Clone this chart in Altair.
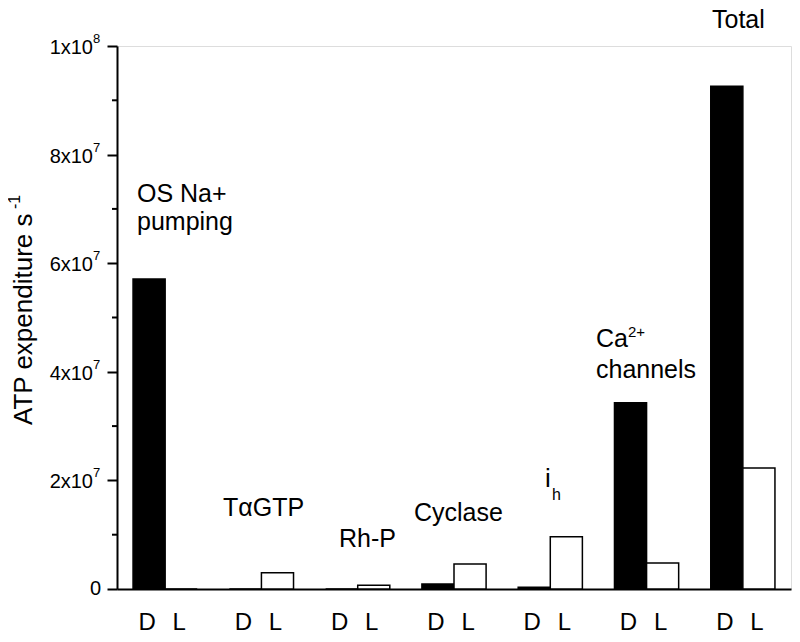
import altair as alt
import pandas as pd

# ---- data ----
groups = ["OS Na+ pumping", "TαGTP", "Rh-P", "Cyclase", "ih", "Ca2+ channels", "Total"]
dark_values = [57.1e6, 0.0, 0.0, 0.9e6, 0.3e6, 34.3e6, 92.6e6]     # D
light_values = [0.0, 3.0e6, 0.7e6, 4.6e6, 9.6e6, 4.8e6, 22.3e6]    # L
series = ["D", "L"]
major_ticks = [0, 2e7, 4e7, 6e7, 8e7, 1e8]
major_base = ["0", "2x10", "4x10", "6x10", "8x10", "1x10"]
major_exp = ["", "7", "7", "7", "7", "8"]
minor_ticks = [1e7, 3e7, 5e7, 7e7, 9e7]

rows = []
for g, d, l in zip(groups, dark_values, light_values):
    rows.append({"group": g, "series": "D", "value": d})
    rows.append({"group": g, "series": "L", "value": l})
df = pd.DataFrame(rows)

ticks_df = pd.DataFrame({"v": major_ticks, "base": major_base, "exp": major_exp})
minor_df = pd.DataFrame({"v": minor_ticks})

W, H = 674, 543
FONT = "Liberation Sans"

yscale = alt.Scale(domain=[0, 1e8], nice=False, zero=True)
xenc = alt.X("group:N", sort=groups,
             scale=alt.Scale(paddingInner=1/3, paddingOuter=1/6),
             axis=alt.Axis(title=None, labels=False, ticks=False, domain=True,
                           domainColor="black", domainWidth=2))
xoff = alt.XOffset("series:N", sort=series, scale=alt.Scale(paddingInner=0, paddingOuter=0))

bars = alt.Chart(df).mark_bar(stroke="black", strokeWidth=1.5).encode(
    x=xenc,
    xOffset=xoff,
    y=alt.Y("value:Q", scale=yscale,
            axis=alt.Axis(title=None, labels=False, values=major_ticks, tickSize=10,
                          tickWidth=2, tickColor="black", domainColor="black",
                          domainWidth=2, grid=False)),
    fill=alt.Fill("series:N", sort=series,
                  scale=alt.Scale(domain=series, range=["black", "white"]), legend=None),
)

dl_labels = alt.Chart(df).mark_text(font=FONT, fontSize=24, baseline="alphabetic",
                                    align="center", dx=-2, color="black").encode(
    x=alt.X("group:N", sort=groups),
    xOffset=alt.XOffset("series:N", sort=series),
    y=alt.value(584),
    text="series:N",
)

minor = alt.Chart(minor_df).mark_rule(color="black", strokeWidth=2).encode(
    y=alt.Y("v:Q", scale=yscale),
    x=alt.value(-5), x2=alt.value(0),
)

tick_base = alt.Chart(ticks_df).transform_filter("datum.v > 0").mark_text(
    font=FONT, fontSize=20, align="right", baseline="middle", dy=2, color="black").encode(
    y=alt.Y("v:Q", scale=yscale),
    x=alt.value(-24),
    text="base:N",
)
tick_zero = alt.Chart(ticks_df).transform_filter("datum.v == 0").mark_text(
    font=FONT, fontSize=20, align="right", baseline="middle", dy=0, color="black").encode(
    y=alt.Y("v:Q", scale=yscale),
    x=alt.value(-16),
    text="base:N",
)
tick_exp = alt.Chart(ticks_df).transform_filter("datum.v > 0").mark_text(
    font=FONT, fontSize=13, align="left", baseline="middle", dy=-7, color="black").encode(
    y=alt.Y("v:Q", scale=yscale),
    x=alt.value(-24),
    text="exp:N",
)


def label(txt, x, y, size=25, angle=None):
    kw = dict(font=FONT, fontSize=size, align="left", baseline="alphabetic", color="black")
    if angle is not None:
        kw["angle"] = angle
    return alt.Chart(pd.DataFrame({"t": [txt]})).mark_text(**kw).encode(
        x=alt.value(x), y=alt.value(y), text="t:N")


annotations = [
    label("ATP expenditure s", -85, 379, 26, 270),
    label("-1", -97, 163, 16, 270),
    label("OS Na+", 20, 156),
    label("pumping", 20, 184),
    label("TαGTP", 106, 470),
    label("Rh-P", 222, 501),
    label("Cyclase", 297, 475),
    label("i", 428, 441, 26),
    label("h", 435, 454, 16),
    label("Ca", 479, 301),
    label("2+", 511, 291, 15),
    label("channels", 479, 332),
    label("Total", 595, -18),
]

chart = alt.layer(bars, dl_labels, minor, tick_base, tick_zero, tick_exp, *annotations).properties(
    width=W, height=H,
    padding={"left": 109, "top": 38, "right": 1, "bottom": 45},
    autosize=alt.AutoSizeParams(type="none"),
).configure_view(stroke=None).configure(background="white")

chart.save("out.html", embed_options={"renderer": "svg", "actions": False})
